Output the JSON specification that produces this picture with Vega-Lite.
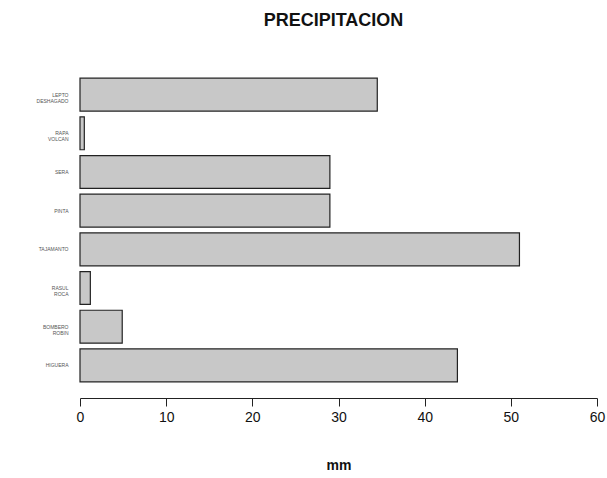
{
  "$schema": "https://vega.github.io/schema/vega-lite/v6.json",
  "width": 517,
  "height": 316,
  "autosize": {"type": "none"},
  "padding": {"left": 80, "top": 72, "right": 10, "bottom": 90},
  "background": "white",
  "title": {"text": "PRECIPITACION", "fontSize": 18, "font": "Liberation Sans", "fontWeight": "bold", "color": "#111", "offset": 42, "anchor": "middle", "dx": -5},
  "data": {"values": [
    {"estacion": "LEPTO DESHAGADO", "mm": 34.5},
    {"estacion": "RAPA VOLCAN", "mm": 0.5},
    {"estacion": "SERA", "mm": 29},
    {"estacion": "PINTA", "mm": 29},
    {"estacion": "TAJAMANTO", "mm": 51},
    {"estacion": "RASUL ROCA", "mm": 1.2},
    {"estacion": "BOMBERO ROBIN", "mm": 4.9},
    {"estacion": "HIGUERA", "mm": 43.8}
  ]},
  "mark": {"type": "bar", "fill": "#c8c8c8", "stroke": "#222", "strokeWidth": 1.2},
  "encoding": {
    "y": {"field": "estacion", "type": "nominal", "sort": null,
      "scale": {"paddingInner": 0.15, "paddingOuter": 0.16},
      "axis": {"title": null, "domain": false, "ticks": false, "labelFontSize": 5, "labelColor": "#555", "labelPadding": 12, "labelExpr": "split(datum.label, ' ')", "labelLineHeight": 6, "labelFont": "Liberation Sans"}},
    "x": {"field": "mm", "type": "quantitative",
      "scale": {"domain": [0, 60], "nice": false, "zero": true},
      "axis": {"title": "mm", "titleFontSize": 14, "titleFontWeight": "bold", "titleFont": "Liberation Sans", "titleColor": "#111", "titlePadding": 34,
        "values": [0, 10, 20, 30, 40, 50, 60], "grid": false, "offset": 10, "tickSize": 8, "tickColor": "#222", "domainColor": "#222",
        "labelFontSize": 14, "labelFont": "Liberation Sans", "labelColor": "#111", "labelPadding": 4, "labelFlush": false}}
  },
  "config": {"view": {"stroke": null}}
}
